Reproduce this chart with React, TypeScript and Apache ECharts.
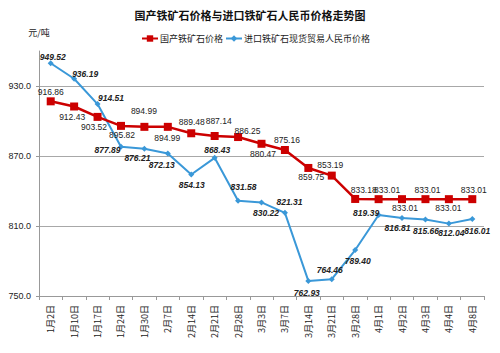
import React, { useEffect, useRef } from "react";
import * as echarts from "echarts";

const categories = ["1月2日", "1月10日", "1月17日", "1月24日", "1月30日", "2月7日", "2月14日", "2月21日", "2月28日", "3月3日", "3月7日", "3月14日", "3月21日", "3月28日", "4月1日", "4月2日", "4月3日", "4月4日", "4月8日"];
const domesticPrice = [916.86, 912.43, 903.52, 895.82, 894.99, 894.99, 889.48, 887.14, 886.25, 880.47, 875.16, 859.75, 853.19, 833.18, 833.01, 833.01, 833.01, 833.01, 833.01];
const importPrice = [949.52, 936.19, 914.51, 877.89, 876.21, 872.13, 854.13, 868.43, 831.58, 830.22, 821.31, 762.93, 764.46, 789.4, 819.39, 816.81, 815.66, 812.04, 816.01];

// label placement (offset of each value label from its point, in px)
const domesticLabelOffset: [number, number][] = [
  [0, -9], [-2, 10.5], [-3.5, 10], [1, 9.5], [-0.5, -16], [-0.5, 11.5], [0.5, -11], [4, -15], [9.5, -6], [1.5, 10.5],
  [2, -10], [3, 9], [-1.5, -10.5], [8.5, -9], [8.5, -9], [3, 9], [2, -9], [-0.5, 9], [1.5, -9],
];
const importLabelOffset: [number, number][] = [
  [2, -6], [11, -5], [13.5, -6], [-13.5, 3], [-7, 9], [-6, 11.5], [0.5, 10.5], [2.5, -8], [5.5, -14], [4.5, 10.5],
  [4.5, -11], [-1.5, 12], [-2, -9], [2.5, 11], [-12.5, -2], [-4.5, 10], [0.5, 11.5], [2.5, 9.5], [5, 12],
];

const FONT = "Liberation Sans, Noto Sans CJK SC, sans-serif";
const CJK = "Noto Sans CJK SC, sans-serif";

export default function App() {
  const ref = useRef<HTMLDivElement>(null);
  useEffect(() => {
    if (!ref.current) return;
    const chart = echarts.init(ref.current, null, { renderer: "svg" });
    chart.setOption({
      animation: false,
      backgroundColor: "#ffffff",
      title: {
        text: "国产铁矿石价格与进口铁矿石人民币价格走势图",
        left: "center",
        top: 4,
        textStyle: { fontFamily: CJK, fontSize: 11, fontWeight: "bold", color: "#111" },
      },
      legend: {
        top: 29,
        left: 136,
        itemGap: 2,
        itemWidth: 16,
        itemHeight: 8,
        textStyle: { fontFamily: CJK, fontSize: 9, color: "#222", padding: [0, 0, 0, -3] },
        data: ["国产铁矿石价格", "进口铁矿石现货贸易人民币价格"],
      },
      grid: { left: 39, right: 16, top: 51, bottom: 57 },
      xAxis: {
        type: "category",
        data: categories,
        boundaryGap: true,
        axisLine: { lineStyle: { color: "#999", width: 1 } },
        axisTick: { show: true, length: 4, lineStyle: { color: "#999" } },
        axisLabel: { rotate: 90, fontFamily: CJK, fontSize: 9, color: "#222", margin: 9, interval: 0 },
      },
      yAxis: {
        type: "value",
        min: 750,
        max: 960,
        interval: 60,
        name: "元/吨",
        nameLocation: "end",
        nameGap: 14,
        nameTextStyle: { fontFamily: CJK, fontSize: 9, color: "#222", align: "center" },
        axisLine: { show: true, lineStyle: { color: "#999" } },
        axisTick: { show: true, length: 3, lineStyle: { color: "#999" } },
        axisLabel: {
          showMaxLabel: false,
          fontFamily: FONT,
          fontSize: 9,
          color: "#222",
          margin: 8,
          formatter: (v: number) => v.toFixed(1),
        },
        splitLine: { show: true, showMaxLine: false, lineStyle: { color: "#a8a8a8", width: 1 } },
      },
      series: [
        {
          name: "国产铁矿石价格",
          type: "line",
          data: domesticPrice.map((v, i) => ({ value: v, label: { offset: domesticLabelOffset[i] } })),
          symbol: "rect",
          symbolSize: 8,
          itemStyle: { color: "#cc0000" },
          lineStyle: { color: "#cc0000", width: 2.5 },
          label: {
            show: true,
            position: "inside",
            fontFamily: FONT,
            fontSize: 8.5,
            color: "#222",
            formatter: (p: any) => p.value.toFixed(2),
          },
          z: 3,
        },
        {
          name: "进口铁矿石现货贸易人民币价格",
          type: "line",
          data: importPrice.map((v, i) => ({ value: v, label: { offset: importLabelOffset[i] } })),
          symbol: "diamond",
          symbolSize: 6,
          itemStyle: { color: "#3a98d8" },
          lineStyle: { color: "#3a98d8", width: 2 },
          label: {
            show: true,
            position: "inside",
            fontFamily: FONT,
            fontSize: 8.5,
            fontStyle: "italic",
            fontWeight: "bold",
            color: "#222",
            formatter: (p: any) => p.value.toFixed(2),
          },
          z: 2,
        },
      ],
    });
    return () => chart.dispose();
  }, []);
  return <div ref={ref} style={{ width: 500, height: 353, position: "absolute", left: 0, top: 0 }} />;
}
